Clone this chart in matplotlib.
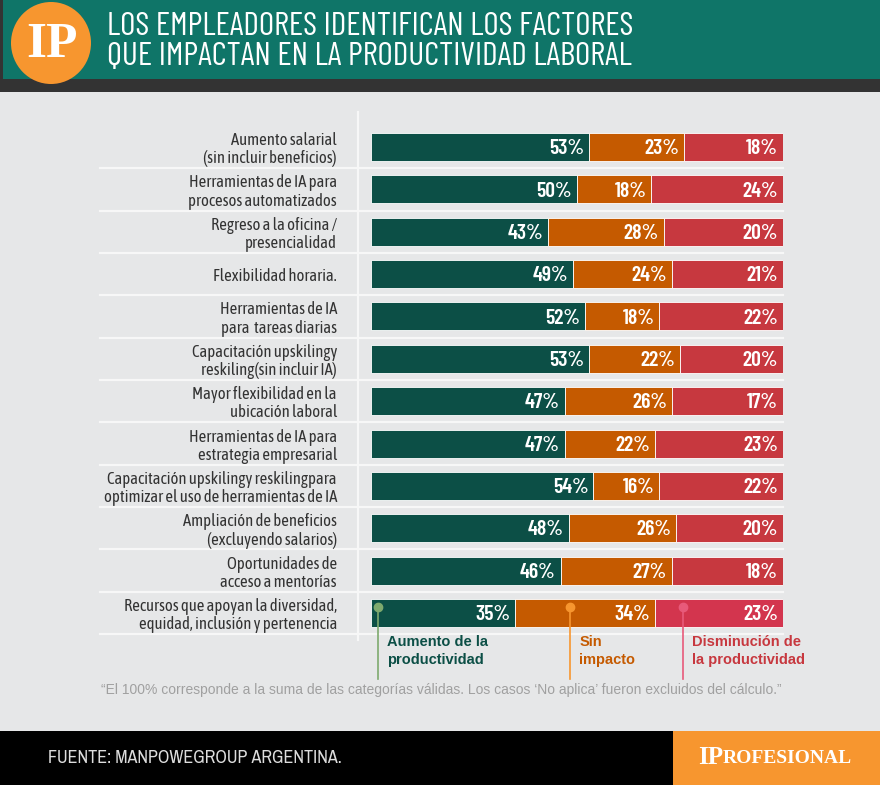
import matplotlib
matplotlib.use("Agg")
import matplotlib.pyplot as plt
from matplotlib.patches import Rectangle, Ellipse
import numpy as np

plt.rcParams['font.family'] = ['Liberation Sans', 'DejaVu Sans']

TITLE_FONT = ['Barlow Condensed', 'DejaVu Sans']
LABEL_FONT = ['Asap Condensed', 'Liberation Sans', 'DejaVu Sans']
VALUE_FONT = ['Barlow Condensed', 'Liberation Sans', 'DejaVu Sans']
SOURCE_FONT = ['Archivo Narrow', 'Liberation Sans', 'DejaVu Sans']
SERIF = ['Liberation Serif', 'DejaVu Serif']

W, H = 880, 785

categories = [
    "Aumento salarial\n(sin incluir beneficios)",
    "Herramientas de IA para\nprocesos automatizados",
    "Regreso a la oficina /\npresencialidad",
    "Flexibilidad horaria.",
    "Herramientas de IA\npara  tareas diarias",
    "Capacitación upskilingy\nreskiling(sin incluir IA)",
    "Mayor flexibilidad en la\nubicación laboral",
    "Herramientas de IA para\nestrategia empresarial",
    "Capacitación upskilingy reskilingpara\noptimizar el uso de herramientas de IA",
    "Ampliación de beneficios\n(excluyendo salarios)",
    "Oportunidades de\nacceso a mentorías",
    "Recursos que apoyan la diversidad,\nequidad, inclusión y pertenencia",
]
aumento = [53, 50, 43, 49, 52, 53, 47, 47, 54, 48, 46, 35]
sin_impacto = [23, 18, 28, 24, 18, 22, 26, 22, 16, 26, 27, 34]
disminucion = [18, 24, 20, 21, 22, 20, 17, 23, 22, 20, 18, 23]

legend_labels = ["Aumento de la\nproductividad", "Sin\nimpacto", "Disminución de\nla productividad"]

title = "LOS EMPLEADORES IDENTIFICAN LOS FACTORES\nQUE IMPACTAN EN LA PRODUCTIVIDAD LABORAL"
note = ("\u201cEl 100% corresponde a la suma de las categorías válidas. "
        "Los casos \u2018No aplica\u2019 fueron excluidos del cálculo.\u201d")
source = "FUENTE: MANPOWEGROUP ARGENTINA."

GREEN = "#0c4f46"
ORANGE = "#c55a00"
RED = "#c7383f"
RED_LAST = "#d3354e"
BG = "#e6e7e8"
TEAL = "#0f7568"

fig = plt.figure(figsize=(W / 100, H / 100), dpi=100, facecolor=BG)

# decoration layer in pixel coordinates
deco = fig.add_axes([0, 0, 1, 1], zorder=0)
deco.set_xlim(0, W)
deco.set_ylim(H, 0)
deco.axis("off")

deco.add_patch(Rectangle((0, 0), W, 79, color=TEAL, lw=0))
deco.add_patch(Rectangle((0, 79), W, 13, color="#333333", lw=0))
deco.add_patch(Rectangle((0, 0), 3, 92, color="#333333", lw=0))
deco.add_patch(Ellipse((51, 43), 80, 82, color="#f7962f", lw=0))
deco.text(52, 45, "IP", color="white", fontsize=37, fontweight="bold",
          family=SERIF, ha="center", va="center")
deco.text(107, 42, title, color="white", fontsize=24, ha="left", va="center",
          linespacing=1.02, family=TITLE_FONT)

# separators
n = len(categories)
row_top, row_step = 147, (613 - 147) / (n - 1)
for i in range(n):
    yy = row_top + (i + 0.5) * row_step
    deco.plot([100, 783], [yy, yy], color="#f7f7f7", lw=1.6)
deco.plot([358, 358], [112, 640], color="#f7f7f7", lw=1.6)

deco.text(441, 690, note, color="#a0a0a0", fontsize=10, ha="center", va="center")

deco.add_patch(Rectangle((0, 731), W, H - 731, color="black", lw=0))
deco.add_patch(Rectangle((673, 731), W - 673, H - 731, color="#f7962f", lw=0))
deco.text(48, 758, source, color="#dddddd", fontsize=13, ha="left", va="center",
          family=SOURCE_FONT)
deco.text(723, 757, "IP", color="white", fontsize=18, fontweight="bold",
          family=SERIF, ha="right", va="center")
deco.text(723, 758.5, "ROFESIONAL", color="white", fontsize=14, fontweight="bold",
          family=SERIF, ha="left", va="center")

# main bar axes: 100% spans 371..783 px
top_px = row_top - row_step / 2
bot_px = 613 + row_step / 2
ax = fig.add_axes([371 / W, 1 - bot_px / H, 412 / W, (bot_px - top_px) / H], zorder=2)
ax.patch.set_alpha(0)
ax.set_xlim(0, 100)
ax.set_ylim(n - 0.5, -0.5)
for s in ax.spines.values():
    s.set_visible(False)
ax.tick_params(axis="x", bottom=False, labelbottom=False)
ax.tick_params(axis="y", left=False, pad=21)

y = np.arange(n)
a = np.array(aumento)
s_ = np.array(sin_impacto)
d = np.array(disminucion)
rest = 100 - a - s_  # the red segment fills the bar up to 100
red_colors = [RED] * (n - 1) + [RED_LAST]
bh = 0.66
ax.barh(y, a, height=bh, color=GREEN, edgecolor="white", linewidth=0.6)
ax.barh(y, s_, left=a, height=bh, color=ORANGE, edgecolor="white", linewidth=0.6)
ax.barh(y, rest, left=a + s_, height=bh, color=red_colors, edgecolor="white", linewidth=0.6)

for i in range(n):
    for end, val in [(a[i], a[i]), (a[i] + s_[i], s_[i]), (100, d[i])]:
        ax.text(end - 1.2, i + 0.04, f"{val}%", color="white", fontsize=15.5,
                fontweight="semibold", ha="right", va="center", family=VALUE_FONT)

ax.set_yticks(y)
ax.set_yticklabels(categories, fontsize=12, color="#333333", ha="right",
                   multialignment="right", linespacing=1.1, family=LABEL_FONT)

# legend call-outs from the last row
leg_x = [1.7, 48.3, 75.7]
leg_line = ["#7eaa6e", "#f7962f", "#e85a7a"]
leg_text = [GREEN, ORANGE, RED]
last = n - 1
for lx, lc, tc, lab in zip(leg_x, leg_line, leg_text, legend_labels):
    ax.plot([lx, lx], [last - 0.15, last + 1.55], color=lc, lw=1.2, clip_on=False)
    ax.plot(lx, last - 0.15, "o", color=lc, ms=6, clip_on=False)
    ax.text(lx + 2.3, last + 0.9, lab, color=tc, fontsize=10.5, fontweight="bold",
            ha="left", va="center", linespacing=1.3)

fig.savefig("out.png", dpi=100, facecolor=BG)
